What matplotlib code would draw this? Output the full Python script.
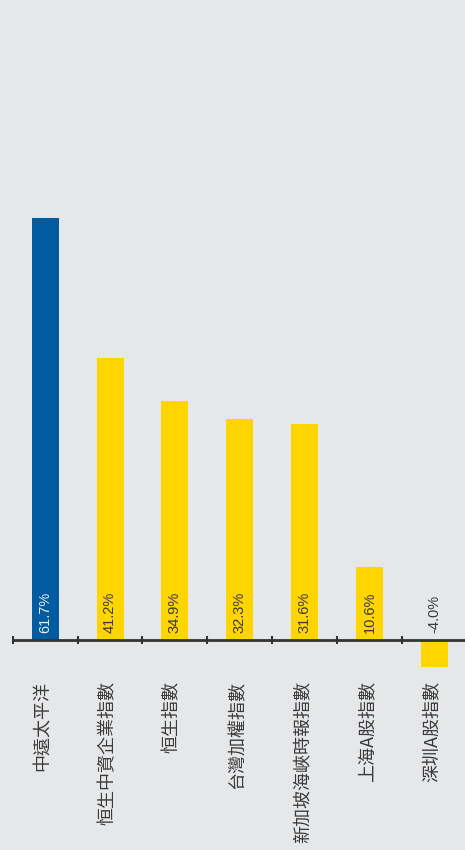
import matplotlib
matplotlib.use('Agg')
import numpy as np
from matplotlib import pyplot as plt

categories = ['中遠太平洋', '恒生中資企業指數', '恒生指數', '台灣加權指數',
              '新加坡海峽時報指數', '上海A股指數', '深圳A股指數']
returns = [61.7, 41.2, 34.9, 32.3, 31.6, 10.6, -4.0]
value_labels = ['61.7%', '41.2%', '34.9%', '32.3%', '31.6%', '10.6%', '-4.0%']
highlight = [True, False, False, False, False, False, False]

bg = '#e6e7e9'
blue = '#005ba1'
yellow = '#ffd500'
txt = '#3a3a3a'

fig = plt.figure(figsize=(4.65, 8.5), dpi=100, facecolor=bg)
ax = fig.add_axes([0.0273, 0.1666, 0.977, 0.6438])
ax.set_facecolor(bg)

x = np.arange(len(categories))
colors = [blue if h else yellow for h in highlight]
ax.bar(x, returns, width=0.415, color=colors, zorder=2)

ax.set_xlim(-0.5, len(categories) - 0.5)
ax.set_ylim(-10, 70)

for s in ['top', 'right', 'left', 'bottom']:
    ax.spines[s].set_visible(False)
ax.axhline(0, color='#333333', lw=2, zorder=3)
ax.set_yticks([])
ax.set_xticks(np.arange(len(categories)) - 0.5)
ax.set_xticklabels([])
ax.tick_params(axis='x', direction='inout', length=6, width=1.5, color='#333333', pad=0)
ax.spines['bottom'].set_position(('data', 0))

# value labels, narrow sans
for xi, v, lab, h in zip(x, returns, value_labels, highlight):
    col = '#e8ecf4' if h else txt
    ax.text(xi, 1.0, lab, rotation=90, ha='center', va='bottom', fontsize=10.5,
            color=col, family=['Liberation Sans Narrow', 'Liberation Sans', 'DejaVu Sans'],
            zorder=4)

for xi, cat in zip(x, categories):
    ax.text(xi - 0.04, -6.0, cat, rotation=90, ha='center', va='top', fontsize=13,
            color=txt, fontweight='light',
            family=['Noto Sans CJK TC', 'DejaVu Sans'], zorder=4)

fig.savefig('out.png', dpi=100, facecolor=bg)
